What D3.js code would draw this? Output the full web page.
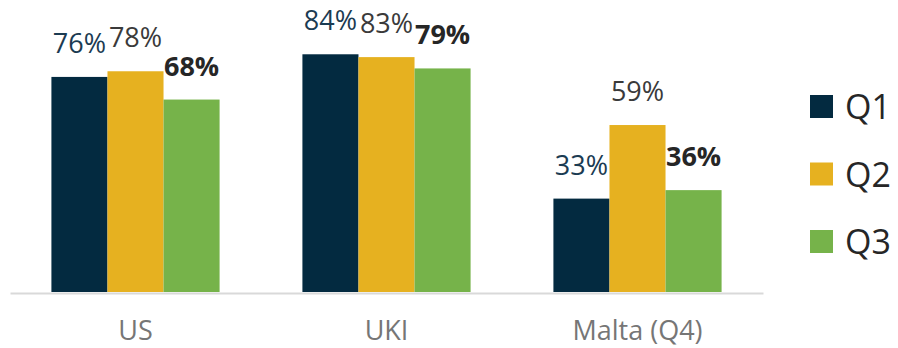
<!DOCTYPE html>
<html>
<head>
<meta charset="utf-8">
<script src="https://cdn.jsdelivr.net/npm/d3@7"></script>
<style>
  html, body { margin: 0; padding: 0; background: #ffffff; }
  svg { display: block; }
</style>
</head>
<body>
<svg id="chart" width="898" height="348"></svg>
<script>
// Regions and quarterly shares (percent)
const categories = ["US", "UKI", "Malta (Q4)"];
const seriesNames = ["Q1", "Q2", "Q3"];
const q1 = [76, 84, 33];
const q2 = [78, 83, 59];
const q3 = [68, 79, 36];
const seriesValues = [q1, q2, q3];

const colors = ["#032a40", "#e6b120", "#76b34a"];
const labelColors = ["#1b3b52", "#3a3a3a", "#262626"];
const labelWeights = ["normal", "normal", "bold"];

const svg = d3.select("#chart");
const baseY = 292;

const x0 = d3.scaleBand()
  .domain(categories)
  .range([10, 763])
  .paddingInner(0.33)
  .paddingOuter(0.165);

const x1 = d3.scaleBand()
  .domain(seriesNames)
  .range([0, x0.bandwidth()])
  .padding(0);

const y = d3.scaleLinear()
  .domain([0, 100])
  .range([baseY, baseY - 283]);

// Table of rows for drawing
const rows = [];
categories.forEach((c, i) => {
  seriesNames.forEach((s, j) => {
    rows.push({ cat: c, series: s, si: j, value: seriesValues[j][i] });
  });
});

// Bars
svg.append("g")
  .selectAll("rect")
  .data(rows)
  .join("rect")
  .attr("x", d => x0(d.cat) + x1(d.series))
  .attr("y", d => y(d.value))
  .attr("width", x1.bandwidth())
  .attr("height", d => y(0) - y(d.value))
  .attr("fill", d => colors[d.si]);

// Baseline axis
const axis = d3.axisBottom(x0).tickSize(0).tickPadding(0);
const gAxis = svg.append("g")
  .attr("transform", `translate(0,${baseY + 1})`)
  .call(axis);
gAxis.select(".domain")
  .attr("stroke", "#d9d9d9")
  .attr("stroke-width", 2);
gAxis.selectAll(".tick text")
  .attr("dy", null)
  .attr("y", 47)
  .attr("font-family", "'Open Sans', sans-serif")
  .attr("font-size", 27)
  .attr("fill", "#767676");

// Value labels
svg.append("g")
  .selectAll("text")
  .data(rows)
  .join("text")
  .attr("x", d => x0(d.cat) + x1(d.series) + x1.bandwidth() / 2)
  .attr("y", d => y(d.value) - 24)
  .attr("text-anchor", "middle")
  .attr("font-family", "'Open Sans', sans-serif")
  .attr("font-size", 27)
  .attr("font-weight", d => labelWeights[d.si])
  .attr("fill", d => labelColors[d.si])
  .text(d => d.value + "%");

// Legend
const legend = svg.append("g")
  .selectAll("g")
  .data(seriesNames)
  .join("g")
  .attr("transform", (d, i) => `translate(810,${95 + i * 67.5})`);
legend.append("rect")
  .attr("width", 23)
  .attr("height", 23)
  .attr("fill", (d, i) => colors[i]);
legend.append("text")
  .attr("x", 35)
  .attr("y", 24)
  .attr("font-family", "'Open Sans', sans-serif")
  .attr("font-size", 34)
  .attr("fill", "#262626")
  .text(d => d);
</script>
</body>
</html>
